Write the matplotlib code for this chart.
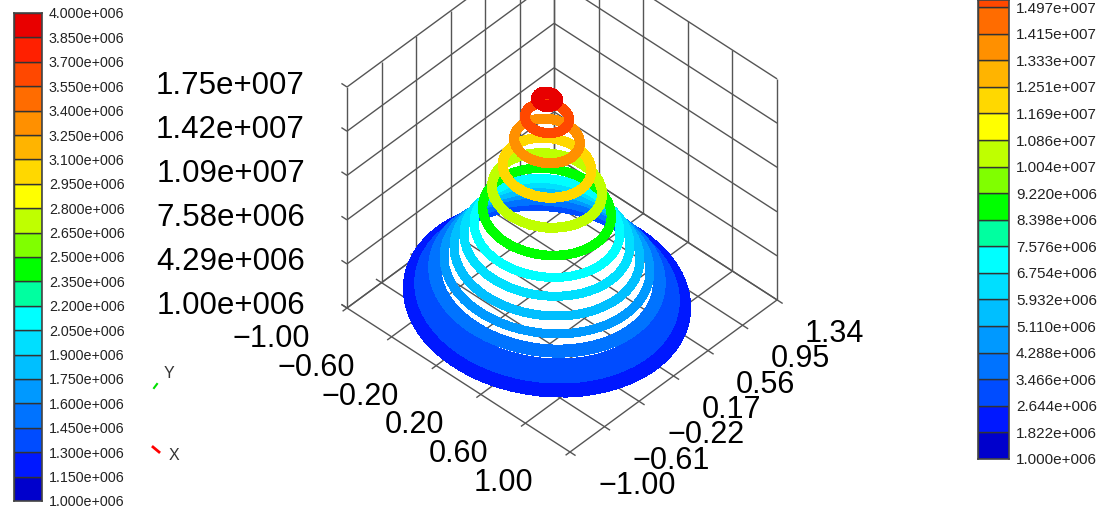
import numpy as np
import matplotlib
matplotlib.use("Agg")
import matplotlib.pyplot as plt
from matplotlib.colors import BoundaryNorm, ListedColormap
from matplotlib.patches import Circle
from matplotlib.transforms import Affine2D

plt.rcParams["font.family"] = ["Liberation Sans", "DejaVu Sans"]

W, H = 1109, 512

# band colours, lowest band first
band_colors = ["#0000cc", "#0018ff", "#004cff", "#0073ff", "#0099ff", "#00bfff", "#00dfff",
               "#00ffff", "#00ffa0", "#00ff00", "#80ff00", "#bfff00", "#ffff00", "#ffd800",
               "#ffb400", "#ff9000", "#ff6c00", "#ff4800", "#ff2000", "#e80000"]

left_levels = [1.00e6, 1.15e6, 1.30e6, 1.45e6, 1.60e6, 1.75e6, 1.90e6, 2.05e6, 2.20e6, 2.35e6, 2.50e6,
               2.65e6, 2.80e6, 2.95e6, 3.10e6, 3.25e6, 3.40e6, 3.55e6, 3.70e6, 3.85e6, 4.00e6]
left_labels = ["1.000e+006", "1.150e+006", "1.300e+006", "1.450e+006", "1.600e+006", "1.750e+006",
               "1.900e+006", "2.050e+006", "2.200e+006", "2.350e+006", "2.500e+006", "2.650e+006",
               "2.800e+006", "2.950e+006", "3.100e+006", "3.250e+006", "3.400e+006", "3.550e+006",
               "3.700e+006", "3.850e+006", "4.000e+006"]

right_levels = [1.000e6, 1.822e6, 2.644e6, 3.466e6, 4.288e6, 5.110e6, 5.932e6, 6.754e6, 7.576e6, 8.398e6,
                9.220e6, 1.004e7, 1.086e7, 1.169e7, 1.251e7, 1.333e7, 1.415e7, 1.497e7, 1.579e7,
                1.661e7, 1.744e7]
right_labels = ["1.000e+006", "1.822e+006", "2.644e+006", "3.466e+006", "4.288e+006", "5.110e+006",
                "5.932e+006", "6.754e+006", "7.576e+006", "8.398e+006", "9.220e+006", "1.004e+007",
                "1.086e+007", "1.169e+007", "1.251e+007", "1.333e+007", "1.415e+007", "1.497e+007"]

# contour rings: radius in the x-y plane and height
ring_radius = [0.97, 0.93, 0.89, 0.855, 0.82, 0.785, 0.72, 0.65, 0.58, 0.51, 0.45, 0.385, 0.31, 0.23, 0.155, 0.07]
ring_z = [2.27e6, 2.49e6, 2.74e6, 3.02e6, 3.28e6, 3.99e6, 4.81e6, 5.63e6, 6.60e6, 7.50e6, 8.70e6, 1.03e7,
          1.20e7, 1.40e7, 1.57e7, 1.71e7]
ring_width_px = [10, 10, 10, 10, 10, 12, 8, 8, 8, 8, 8.5, 9, 9, 9, 9, 11]

x_ticks = [-1.00, -0.60, -0.20, 0.20, 0.60, 1.00]
y_ticks = [-1.00, -0.61, -0.22, 0.17, 0.56, 0.95, 1.34]
z_ticks = [1.00e6, 4.29e6, 7.58e6, 1.09e7, 1.42e7, 1.75e7]
x_labels = ["\u22121.00", "\u22120.60", "\u22120.20", "0.20", "0.60", "1.00"]
y_labels = ["\u22121.00", "\u22120.61", "\u22120.22", "0.17", "0.56", "0.95", "1.34"]
z_labels = ["1.00e+006", "4.29e+006", "7.58e+006", "1.09e+007", "1.42e+007", "1.75e+007"]

GRID = "#555555"


def proj(x, y, z):
    # fixed oblique view, gives picture pixels
    px = 347 + (x + 1) * 111.5 + (y + 1) * 88.5
    py = 308 + (x + 1) * 72.0 - (y + 1) * 65.0 - (z - 1e6) / 16.5e6 * 221
    return px, py


def seg(ax, a, b, lw=1.0):
    pa, pb = proj(*a), proj(*b)
    ax.plot([pa[0], pb[0]], [pa[1], pb[1]], color=GRID, lw=lw, zorder=1, solid_capstyle="butt")


def colorbar(rect, levels, labels, ylim, fontsize):
    x0, y0, x1, y1 = rect
    cax = fig.add_axes([x0 / W, 1 - y1 / H, (x1 - x0) / W, (y1 - y0) / H])
    cax.bar(0.5, np.diff(levels), bottom=levels[:-1], width=1.0, color=band_colors,
            edgecolor="#333333", linewidth=1.0)
    cax.set_xlim(0, 1)
    cax.set_ylim(*ylim)
    cax.set_xticks([])
    cax.set_yticks(levels[:len(labels)], labels)
    cax.yaxis.tick_right()
    cax.tick_params(axis="y", length=0, pad=5, labelsize=fontsize, labelcolor="#222222")
    for s in cax.spines.values():
        s.set_color("#444444")
        s.set_linewidth(1.2)


fig = plt.figure(figsize=(W / 100, H / 100), dpi=100, facecolor="white")
ax = fig.add_axes([0, 0, 1, 1])
ax.set_xlim(0, W)
ax.set_ylim(H, 0)
ax.axis("off")

xa, xb = x_ticks[0], x_ticks[-1]
ya, yb = y_ticks[0], y_ticks[-1]
za, zb = z_ticks[0], z_ticks[-1]
t = 0.05

# floor and the two back walls
for x in x_ticks:
    seg(ax, (x, ya - t, za), (x, yb, za))
    seg(ax, (x, yb, za), (x, yb, zb))
for y in y_ticks:
    seg(ax, (xa - t, y, za), (xb + t, y, za))
    seg(ax, (xa, y, za), (xa, y, zb))
for z in z_ticks:
    seg(ax, (xa - t, ya, z), (xa, ya, z))
    seg(ax, (xa, ya, z), (xa, yb, z))
    seg(ax, (xa, yb, z), (xb, yb, z))

# rings, lowest first so the upper ones sit on top
# they are sheared a bit less than the floor grid in the original
norm = BoundaryNorm(right_levels, len(band_colors))
cmap = ListedColormap(band_colors)
for r, z, w in zip(ring_radius, ring_z, ring_width_px):
    cx, cy = proj(0, 0, z)
    tr = Affine2D.from_values(143.0, 9.8, 0.0, 96.5, cx, cy) + ax.transData
    ax.add_patch(Circle((0, 0), r, fill=False, ec=cmap(norm(z)), lw=w * 0.72,
                        transform=tr, zorder=3, antialiased=False))

# axis numbers
for x, s in zip(x_ticks, x_labels):
    px, py = proj(x, ya, za)
    ax.text(px - 37, py + 31, s, ha="right", va="center", fontsize=22, color="black")
for y, s in zip(y_ticks, y_labels):
    px, py = proj(xb, y, za)
    ax.text(px + 28, py + 34, s, ha="left", va="center", fontsize=22, color="black")
for z, s in zip(z_ticks, z_labels):
    px, py = proj(xa, ya, z)
    ax.text(px - 42, py - 1.5, s, ha="right", va="center", fontsize=22.5, color="black")

# little axis triad
ax.plot([154, 157], [388, 384], color="#00e000", lw=1.5)
ax.plot([153, 159], [447, 452], color="#ff0000", lw=2)
ax.text(169, 373, "Y", ha="center", va="center", fontsize=11.5, color="#333333")
ax.text(174, 455, "X", ha="center", va="center", fontsize=11.5, color="#333333")

colorbar((14, 13, 42, 501), left_levels, left_labels, (left_levels[0], left_levels[-1]), 10.3)
top = right_levels[0] + 459 / 26.59 * 0.822e6
colorbar((978, 0, 1009, 459), right_levels, right_labels, (right_levels[0], top), 11)

fig.savefig("out.png", dpi=100)
